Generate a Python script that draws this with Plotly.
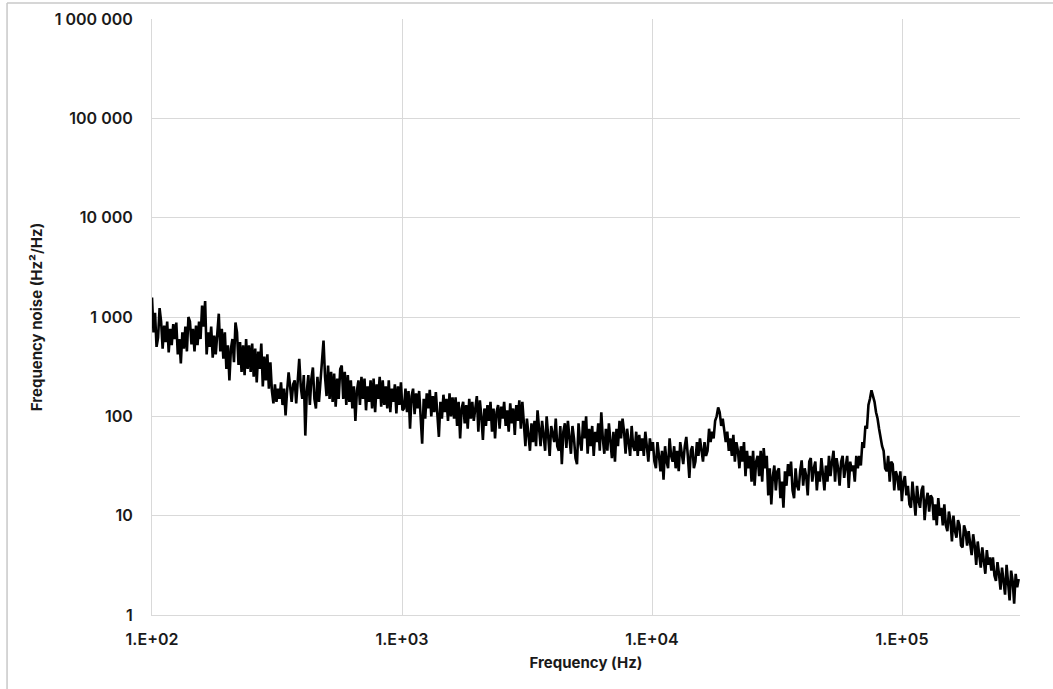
import numpy as np
import plotly.graph_objects as go

# Frequency grid (Hz): sampling from 100 Hz to ~2.93e5 Hz, log spaced
f_start = 100.0
f_stop = 2.93e5

# Frequency noise values (Hz^2/Hz), low -> high frequency
seg_a = [1570, 700, 1100, 500, 620, 1230, 900, 480, 820, 560, 900, 440, 760, 520, 850, 600,
         880, 420, 600, 340, 700, 480, 800, 450, 1000, 900, 530, 760]
seg_b = [450, 820, 520, 900, 600, 1300, 800, 1450, 420, 700, 500, 800, 390, 650, 420, 720]
seg_c = [1080, 450, 760, 380, 700, 300, 520, 230, 480, 600, 350, 880, 700, 330, 560, 280,
         520, 260, 600, 300, 520, 280]
seg_d = [540, 250, 480, 220, 450, 300, 540, 200, 400, 230, 420, 190, 350, 180]
seg_e = [135, 210, 140, 190, 150, 220, 130, 190, 102, 180, 277, 200, 140, 210]
seg_f = [230, 135, 240, 380, 200, 150, 260, 64, 180, 260, 130, 240, 310, 150, 120, 250,
         140, 230, 300, 580, 250, 160]
seg_g = [325, 150, 280, 140, 270, 125, 240, 150, 300, 325, 150, 280, 130, 260, 140, 230,
         120, 200, 90, 180]
seg_h = [230, 130, 250, 150, 240, 115, 200, 140, 230, 120, 240, 110, 210, 150, 250, 125,
         230, 130, 200, 120, 230, 110, 190, 140, 210, 107, 200, 130, 220, 115]
seg_i = [120, 190, 110, 180, 75, 160, 190, 105, 170, 120, 180, 100, 53, 150, 95, 170, 120,
         185, 100, 160, 110, 175, 90, 62, 140, 95, 165, 110, 150, 90, 170, 100, 155, 95]
seg_j = [155, 80, 140, 60, 120, 140, 85, 130, 75, 150, 95, 140, 90, 125, 160, 70, 145, 100,
         58, 120, 80, 130, 90, 140, 70, 120, 60, 110, 130, 75, 125, 95, 140, 80, 115, 70,
         135, 85, 120, 65, 130, 90, 145, 75, 140, 85]
seg_k = [50, 95, 60, 45, 85, 55, 90, 50, 115, 70, 50, 90, 60, 45, 100, 55, 40, 80, 65, 55,
         95, 50, 45, 80, 33, 70, 85, 48, 90, 55, 42, 80, 60, 38, 33, 85, 55, 45, 90, 60,
         100, 42, 75, 50, 80, 40, 70, 55, 85, 45, 110, 60, 42, 75]
seg_l = [45, 85, 60, 38, 70, 35, 75, 50, 90, 60, 95, 70, 42, 75, 55, 40, 80, 50, 45, 70,
         40, 65, 45, 60, 40, 70, 50, 35, 60, 45, 55, 35]
seg_m = [30, 55, 40, 28, 45, 23, 50, 35, 30, 60, 40, 35, 50, 30, 45, 28, 55, 40, 33, 50,
         62, 40, 24, 45, 50, 30, 35, 55, 40, 60, 45, 35, 55, 40]
seg_n = [45, 75, 55, 70, 60, 90, 100, 123, 110, 80, 95, 70]
seg_o = [55, 70, 45, 60, 40, 65, 35, 55, 45, 30, 50, 35, 55, 25, 45, 30, 40, 22, 45, 20,
         35, 40, 25, 45]
seg_p = [22, 48, 30, 40, 16, 30, 13, 25, 32, 18, 28, 30, 15, 22, 12, 28, 20, 33]
seg_q = [25, 35, 18, 15, 30, 20, 18, 28, 36, 20, 30, 25, 16, 35, 38, 22, 30, 35, 18, 28,
         22, 38, 25, 18, 32, 22]
seg_r = [40, 25, 35, 45, 22, 38, 30, 20, 35, 40, 24, 32, 40, 19, 35, 28, 32, 22, 40, 30]
seg_s = [40, 32, 55, 48, 80, 75, 130, 150, 183, 160, 140, 110, 95, 75, 60, 50]
seg_t = [45, 30, 28, 40, 22, 35, 33, 18, 28, 25, 18, 28, 14, 22, 25, 16, 20, 13]
seg_u = [12, 22, 15, 10, 20, 14, 12, 18, 20, 9, 14, 17, 11, 16, 15, 9, 13, 8, 15, 10, 12, 8]
seg_v = [13, 8, 7, 11, 9, 5.5, 10, 7, 6, 9, 8, 5, 4.8, 8, 7, 5]
seg_w = [7, 5, 4, 6.5, 5, 3.2, 5.5, 4, 3, 4.8, 3.5, 2.6, 4.5, 3.2, 3.8, 2.8]
seg_x = [3.8, 2.5, 2.2, 3.4, 2.6, 1.8, 3.0, 2.2, 1.6, 3.2, 2.0, 1.4, 2.8, 2.2, 1.3, 2.6,
         1.9, 2.3]

noise = (seg_a + seg_b + seg_c + seg_d + seg_e + seg_f + seg_g + seg_h + seg_i + seg_j
         + seg_k + seg_l + seg_m + seg_n + seg_o + seg_p + seg_q + seg_r + seg_s + seg_t
         + seg_u + seg_v + seg_w + seg_x)
freq = np.geomspace(f_start, f_stop, len(noise))

# Axis ticks
x_tickvals = [1e2, 1e3, 1e4, 1e5]
x_ticktext = ["1.E+02", "1.E+03", "1.E+04", "1.E+05"]
y_tickvals = [1, 10, 100, 1000, 10000, 100000, 1000000]
y_ticktext = ["1", "10", "100", "1 000", "10 000", "100 000", "1 000 000"]

fig = go.Figure()
fig.add_trace(go.Scatter(
    x=freq, y=noise, mode="lines",
    line=dict(color="#000000", width=2.6),
    showlegend=False, hoverinfo="x+y",
))

tick_font = dict(family="Inter, Lato, sans-serif", size=16, color="#1a1a1a", weight=600)
title_font = dict(family="Inter, Lato, sans-serif", size=15, color="#1a1a1a", weight=700)

fig.update_layout(
    width=1053, height=689,
    margin=dict(l=152, r=33, t=19, b=74),
    paper_bgcolor="white", plot_bgcolor="white",
    xaxis=dict(
        type="log", range=[2, 5.472], automargin=False,
        tickvals=x_tickvals, ticktext=x_ticktext,
        showgrid=True, gridcolor="#d9d9d9", gridwidth=1,
        showline=True, linecolor="#d9d9d9", linewidth=1,
        ticks="", tickfont=tick_font, ticklabelstandoff=10,
        title=dict(text="Frequency (Hz)", font=title_font, standoff=9),
        zeroline=False,
    ),
    yaxis=dict(
        type="log", range=[0, 6], automargin=False,
        tickvals=y_tickvals, ticktext=y_ticktext,
        showgrid=True, gridcolor="#d9d9d9", gridwidth=1,
        showline=True, linecolor="#d9d9d9", linewidth=1,
        ticks="", tickfont=tick_font, ticklabelstandoff=15,
        title=dict(text="Frequency noise (Hz\u00b2/Hz)", font=title_font, standoff=8),
        zeroline=False,
    ),
)

# Outer frame (top and left edges visible in the reference)
fig.add_shape(type="line", xref="paper", yref="paper",
              x0=-0.167, x1=1.05, y0=1.027, y1=1.027,
              line=dict(color="#c8c8c8", width=1.5))
fig.add_shape(type="line", xref="paper", yref="paper",
              x0=-0.167, x1=-0.167, y0=1.027, y1=-0.13,
              line=dict(color="#c8c8c8", width=1.5))

fig.write_html("out.html", config={"displayModeBar": False},
               post_script="document.body.style.margin='0px';document.body.style.overflow='hidden';")
